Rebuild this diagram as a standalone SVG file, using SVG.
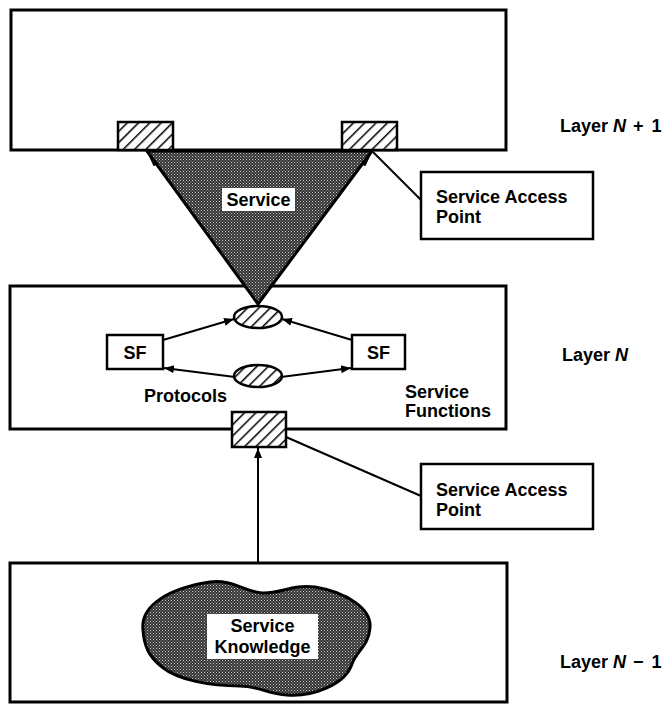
<svg xmlns="http://www.w3.org/2000/svg" width="672" height="706" viewBox="0 0 672 706">
<style>
text{font-family:"Liberation Sans",Arial,sans-serif;font-weight:bold;font-size:18px;fill:#000}
.box{fill:#fff;stroke:#000;stroke-width:2.5}
.lay{fill:none;stroke:#000;stroke-width:3}
.hat{fill:url(#hatch);stroke:#000;stroke-width:2.5}
.ln{fill:none;stroke:#000;stroke-width:2}
.lbl{fill:#fff;stroke:none}
</style>
<defs>
<pattern id="hatch" width="8" height="8" patternUnits="userSpaceOnUse" patternTransform="rotate(45)">
<rect width="8" height="8" fill="#fff"/>
<line x1="0" y1="0" x2="0" y2="8" stroke="#000" stroke-width="3"/>
</pattern>
<pattern id="stip" width="3" height="3" patternUnits="userSpaceOnUse">
<rect width="3" height="3" fill="#333"/>
<rect x="0" y="0" width="1" height="1" fill="#ccc"/>
<rect x="1.5" y="1.5" width="1" height="1" fill="#aaa"/>
</pattern>
<marker id="arr" viewBox="0 0 10 10" refX="10" refY="5" markerWidth="10" markerHeight="10" markerUnits="userSpaceOnUse" orient="auto">
<path d="M0,1 L10,5 L0,9 z" fill="#000"/>
</marker>
</defs>

<g id="layer-n-plus-1">
<rect class="lay" x="11" y="10" width="495" height="140"/>
<text x="560" y="132">Layer <tspan font-style="italic">N</tspan><tspan dx="7">+</tspan><tspan dx="8">1</tspan></text>
</g>

<g id="layer-n">
<rect class="lay" x="10" y="286" width="496" height="143"/>
<text x="562" y="361">Layer <tspan font-style="italic">N</tspan></text>
<text x="144" y="402">Protocols</text>
<text x="405" y="398">Service</text>
<text x="405" y="417">Functions</text>
</g>

<g id="layer-n-minus-1">
<rect class="lay" x="10" y="563" width="497" height="139"/>
<text x="560" y="668">Layer <tspan font-style="italic">N</tspan><tspan dx="7">−</tspan><tspan dx="8">1</tspan></text>
</g>

<g id="service-triangle">
<path d="M147,151 L372,151 L258,304 Z" fill="url(#stip)" stroke="#000" stroke-width="3" stroke-linejoin="round"/>
<rect class="lbl" x="222" y="188" width="73" height="23"/>
<text x="258.5" y="206" text-anchor="middle">Service</text>
</g>

<g id="sap-top-left"><rect class="hat" x="118" y="122" width="55" height="28"/></g>
<g id="sap-top-right"><rect class="hat" x="342" y="122" width="55" height="28"/></g>

<g id="sap-label-top">
<rect class="box" x="421" y="172" width="172" height="67"/>
<text x="436" y="203">Service Access</text>
<text x="436" y="223">Point</text>
</g>

<g id="ellipse-top"><ellipse class="hat" cx="258" cy="317" rx="24" ry="11"/></g>
<g id="ellipse-bottom"><ellipse class="hat" cx="258" cy="376" rx="24" ry="11"/></g>

<g id="sf-left">
<rect class="box" x="107" y="335" width="56" height="34"/>
<text x="135" y="359" text-anchor="middle">SF</text>
</g>
<g id="sf-right">
<rect class="box" x="352" y="335" width="53" height="34"/>
<text x="378.5" y="359" text-anchor="middle">SF</text>
</g>

<g id="sap-middle"><rect class="hat" x="232" y="412" width="54" height="35"/></g>

<g id="sap-label-bottom">
<rect class="box" x="421" y="464" width="172" height="65"/>
<text x="436" y="496">Service Access</text>
<text x="436" y="516">Point</text>
</g>

<g id="service-knowledge">
<path d="M143,630 C140,605 170,588 210,582 C232,579 245,592 262,593 C280,594 292,584 315,587 C345,592 372,608 370,628 C369,645 356,652 352,664 C345,685 312,697 287,695 C268,694 258,686 240,686 C210,686 178,680 162,667 C148,656 144,645 143,630 Z" fill="url(#stip)" stroke="#000" stroke-width="3"/>
<rect class="lbl" x="207" y="614" width="111" height="45"/>
<text x="262.5" y="632" text-anchor="middle">Service</text>
<text x="262.5" y="653" text-anchor="middle">Knowledge</text>
</g>

<g id="connectors">
<path d="M158,164 L147,151 L154,166" fill="#000" stroke="#000" stroke-width="1"/>
<path d="M361,164 L372,151 L365,166" fill="#000" stroke="#000" stroke-width="1"/>
<line class="ln" x1="373" y1="152" x2="421" y2="200"/>
<line class="ln" x1="163" y1="340" x2="234" y2="319" marker-end="url(#arr)"/>
<line class="ln" x1="352" y1="340" x2="282" y2="319" marker-end="url(#arr)"/>
<line class="ln" x1="235" y1="377" x2="164" y2="368" marker-end="url(#arr)"/>
<line class="ln" x1="281" y1="377" x2="351" y2="368" marker-end="url(#arr)"/>
<line class="ln" x1="258" y1="563" x2="258" y2="448" marker-end="url(#arr)"/>
<line class="ln" x1="286" y1="437" x2="421" y2="496"/>
</g>
</svg>
